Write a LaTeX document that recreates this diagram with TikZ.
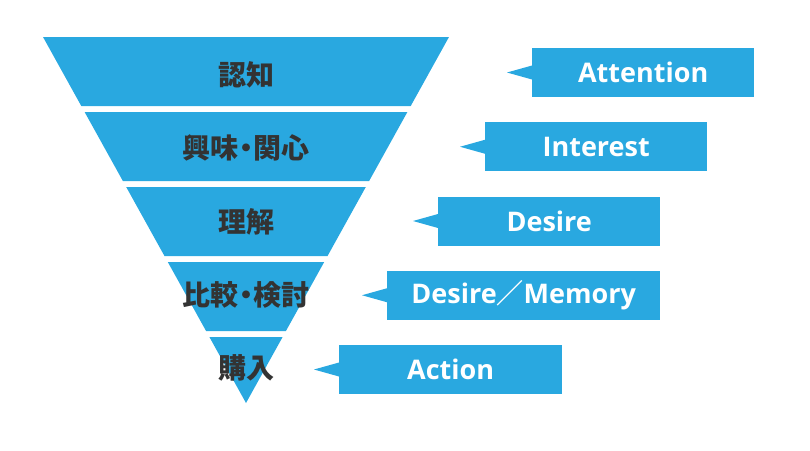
\documentclass[tikz,border=0pt]{standalone}
\usepackage{fontspec}
\setmainfont{Open Sans}
\newfontfamily\jpfont{Noto Sans CJK JP}
\definecolor{funnelblue}{HTML}{29A8E0}
\definecolor{stagegray}{HTML}{333333}
\newcommand\middot{\kern-0.22em・\kern-0.22em}
\tikzset{
  band/.style={fill=funnelblue},
  stage/.style={font=\jpfont\bfseries\fontsize{28}{28}\selectfont, text=stagegray, inner sep=0pt},
  callout/.style={fill=funnelblue, text=white, font=\bfseries\fontsize{27}{27}\selectfont,
    minimum height=49pt, inner sep=0pt, anchor=west},
}
\begin{document}
\begin{tikzpicture}[x=1pt,y=-1pt]
\useasboundingbox (0,0) rectangle (810,450);
% funnel bands
\foreach \i/\ty/\txt in {0/75/認知,1/148/興味\middot 関心,2/222/理解,3/295/比較\middot 検討,4/368/購入}{
  \pgfmathsetmacro\yt{37+75*\i}
  \pgfmathsetmacro\yb{min(\yt+69,403)}
  \pgfmathsetmacro\wt{0.5546*(403-\yt)}
  \pgfmathsetmacro\wb{0.5546*(403-\yb)}
  \fill[band] (246-\wt,\yt) -- (246+\wt,\yt) -- (246+\wb,\yb) -- (246-\wb,\yb) -- cycle;
  \node[stage] (s\i) at (246,\ty) {\txt};
}
% callouts
\foreach \i/\xl/\w/\txt in {0/532/222/Attention,1/485/222/Interest,2/438/222/Desire,
    3/387/273/Desire{\jpfont ／}Memory,4/339/223/Action}{
  \node[callout, minimum width=\w pt] (c\i) at (\xl,{72.5+74.25*\i}) {\txt};
  \coordinate (t\i) at ([xshift=-25pt]c\i.west);
  \fill[band] (t\i) -- ([yshift=7pt]c\i.west) -- ([yshift=-7pt]c\i.west) -- cycle;
}
\end{tikzpicture}
\end{document}
